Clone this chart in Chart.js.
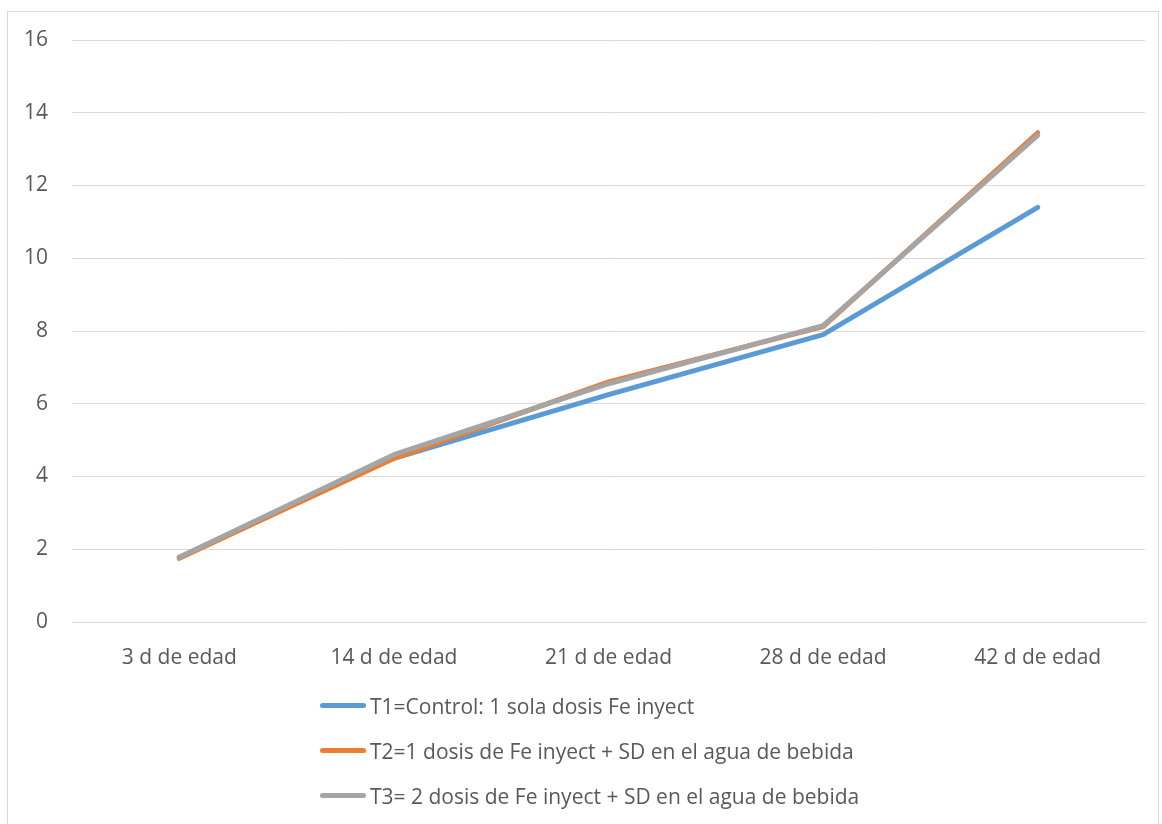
<!DOCTYPE html>
<html>
<head>
<meta charset="utf-8">
<script src="https://cdn.jsdelivr.net/npm/chart.js@4/dist/chart.umd.min.js"></script>
<style>
  body { margin: 0; background: #fff; }
  #wrap { position: relative; width: 1162px; height: 824px; }
  #frame { position: absolute; left: 7px; top: 11px; width: 1152px; height: 830px; border: 1px solid #d9d9d9; box-sizing: border-box; }
  #legend { position: absolute; left: 320px; top: 683px; font-family: "Open Sans", sans-serif; font-size: 21px; color: #595959; }
  #legend div { height: 45px; display: flex; align-items: center; }
  #legend span.sw { display: inline-block; width: 46px; height: 5px; border-radius: 3px; margin-right: 4px; }
</style>
</head>
<body>
<div id="wrap">
  <div id="frame"></div>
  <canvas id="chart" width="1162" height="824"></canvas>
  <div id="legend"></div>
</div>
<script>
const categories = ['3 d de edad', '14 d de edad', '21 d de edad', '28 d de edad', '42 d de edad'];
const t1Values = [1.78, 4.5, 6.25, 7.9, 11.4];
const t2Values = [1.75, 4.5, 6.6, 8.12, 13.45];
const t3Values = [1.78, 4.6, 6.55, 8.15, 13.38];
const seriesNames = [
    'T1=Control: 1 sola dosis Fe inyect',
    'T2=1 dosis de Fe inyect + SD en el agua de bebida',
    'T3= 2 dosis de Fe inyect + SD en el agua de bebida'
];
const seriesColors = ['#5B9BD5', '#ED7D31', '#A5A5A5'];
const yTicks = [0, 2, 4, 6, 8, 10, 12, 14, 16];

const font = { family: '"Open Sans", sans-serif', size: 21 };

function makeSet(i, values) {
    return {
        label: seriesNames[i],
        data: values,
        borderColor: seriesColors[i],
        backgroundColor: seriesColors[i],
        borderWidth: 5,
        borderCapStyle: 'round',
        borderJoinStyle: 'round',
        pointRadius: 0,
        tension: 0,
        fill: false,
        order: 2 - i
    };
}

const chart = new Chart(document.getElementById('chart').getContext('2d'), {
    type: 'line',
    data: {
        labels: categories,
        datasets: [makeSet(0, t1Values), makeSet(1, t2Values), makeSet(2, t3Values)]
    },
    options: {
        responsive: false,
        animation: false,
        layout: { padding: { left: 0, top: 40, right: 17, bottom: 0 } },
        plugins: { legend: { display: false }, tooltip: { enabled: false } },
        scales: {
            x: {
                offset: true,
                grid: { display: false },
                border: { color: '#d9d9d9', width: 1 },
                ticks: { font: font, color: '#595959', padding: 15, maxRotation: 0 },
                afterFit: s => { s.height = 202; }
            },
            y: {
                min: 0,
                max: 16,
                afterBuildTicks: s => { s.ticks = yTicks.map(v => ({ value: v })); },
                grid: { color: '#d9d9d9', drawTicks: false },
                border: { display: false },
                ticks: { font: font, color: '#595959', padding: 24 },
                afterFit: s => { s.width = 72; }
            }
        }
    }
});

// legend, one entry per line
const legend = document.getElementById('legend');
chart.data.datasets.forEach(ds => {
    const row = document.createElement('div');
    row.innerHTML = `<span class="sw" style="background:${ds.borderColor}"></span>${ds.label}`;
    legend.appendChild(row);
});
</script>
</body>
</html>
